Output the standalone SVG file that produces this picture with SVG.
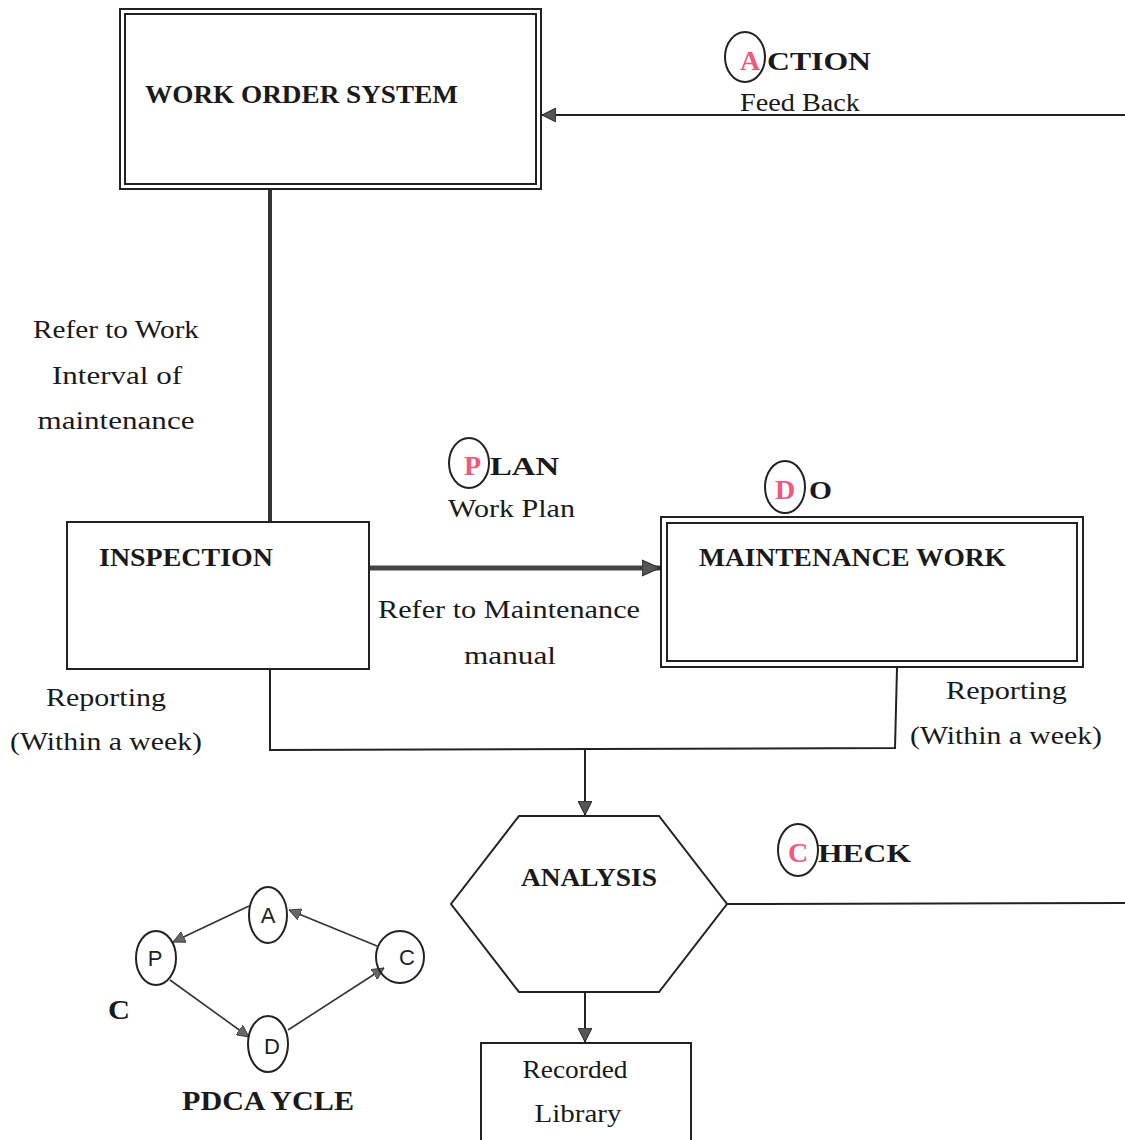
<svg xmlns="http://www.w3.org/2000/svg" width="1125" height="1140" viewBox="0 0 1125 1140">
<style>
.t{font-family:"Liberation Serif","Times New Roman",serif;fill:#1a1a1a}
.b{font-weight:bold}
.lbl{font-size:25px}
.ttl{font-size:26px;font-weight:bold}
.red{fill:#ef5a7c;font-weight:bold}
.box{fill:#fff;stroke:#222;stroke-width:2}
.ring{fill:none;stroke:#222;stroke-width:2}
.ln{fill:none;stroke:#222;stroke-width:2}
.sl{fill:none;stroke:#333;stroke-width:1.6}
.sans{font-family:"Liberation Sans",Arial,sans-serif;font-size:22px;fill:#222}
</style>
<defs>
<marker id="arr" viewBox="0 0 14 14" refX="14" refY="7" markerWidth="14" markerHeight="14" orient="auto" markerUnits="userSpaceOnUse">
<path d="M0,0 L14,7 L0,14 z" fill="#555" stroke="#222" stroke-width="1"/>
</marker>
<marker id="arrBig" viewBox="0 0 18 18" refX="18" refY="9" markerWidth="18" markerHeight="18" orient="auto" markerUnits="userSpaceOnUse">
<path d="M0,1 L18,9 L0,17 z" fill="#555" stroke="#222" stroke-width="1"/>
</marker>
<marker id="arrS" viewBox="0 0 12 12" refX="12" refY="6" markerWidth="12" markerHeight="12" orient="auto" markerUnits="userSpaceOnUse">
<path d="M0,0 L12,6 L0,12 z" fill="#666" stroke="#333" stroke-width="0.8"/>
</marker>
</defs>
<rect width="1125" height="1140" fill="#fff"/>

<g id="connectors">
<line class="ln" x1="1125" y1="115" x2="542" y2="115" marker-end="url(#arr)"/>
<line x1="270" y1="190" x2="270" y2="522" stroke="#333" stroke-width="4"/>
<line x1="360" y1="568" x2="660" y2="568" stroke="#444" stroke-width="5" marker-end="url(#arrBig)"/>
<polyline class="ln" points="270,669 270,750 895,748 897,668"/>
<line class="ln" x1="585" y1="749" x2="585" y2="815" marker-end="url(#arr)"/>
<line class="ln" x1="727" y1="904" x2="1125" y2="903"/>
<line class="ln" x1="585" y1="992" x2="585" y2="1042" marker-end="url(#arr)"/>
</g>

<g id="work-order-system">
<rect class="box" x="120" y="9" width="421" height="180"/>
<rect class="box" x="125" y="14" width="411" height="170"/>
<text class="t ttl" x="145" y="103" textLength="313" lengthAdjust="spacingAndGlyphs">WORK ORDER SYSTEM</text>
</g>

<g id="action-label">
<ellipse class="ring" cx="745" cy="57" rx="20" ry="25"/>
<text class="t red" x="740" y="70" font-size="28">A</text>
<text class="t ttl" x="767" y="70" font-size="28" textLength="104" lengthAdjust="spacingAndGlyphs">CTION</text>
<text class="t lbl" x="740" y="111" textLength="120" lengthAdjust="spacingAndGlyphs">Feed Back</text>
</g>

<g id="refer-work-label">
<text class="t lbl" x="116" y="338" text-anchor="middle" textLength="166" lengthAdjust="spacingAndGlyphs">Refer to Work</text>
<text class="t lbl" x="117" y="384" text-anchor="middle" textLength="130" lengthAdjust="spacingAndGlyphs">Interval of</text>
<text class="t lbl" x="116" y="429" text-anchor="middle" textLength="157" lengthAdjust="spacingAndGlyphs">maintenance</text>
</g>

<g id="inspection">
<rect class="box" x="67" y="522" width="302" height="147"/>
<text class="t ttl" x="99" y="566" textLength="174" lengthAdjust="spacingAndGlyphs">INSPECTION</text>
</g>

<g id="plan-label">
<ellipse class="ring" cx="469" cy="463" rx="20" ry="25"/>
<text class="t red" x="464" y="475" font-size="28">P</text>
<text class="t ttl" x="490" y="475" font-size="28" textLength="69" lengthAdjust="spacingAndGlyphs">LAN</text>
<text class="t lbl" x="448" y="517" textLength="127" lengthAdjust="spacingAndGlyphs">Work Plan</text>
</g>

<g id="do-label">
<ellipse class="ring" cx="785" cy="487" rx="20" ry="26"/>
<text class="t red" x="775" y="499" font-size="28">D</text>
<text class="t ttl" x="809" y="499" font-size="28" textLength="23" lengthAdjust="spacingAndGlyphs">O</text>
</g>

<g id="maintenance-work">
<rect class="box" x="661" y="517" width="422" height="150"/>
<rect class="box" x="667" y="523" width="410" height="138"/>
<text class="t ttl" x="699" y="566" textLength="307" lengthAdjust="spacingAndGlyphs">MAINTENANCE WORK</text>
</g>

<g id="refer-manual-label">
<text class="t lbl" x="378" y="618" textLength="262" lengthAdjust="spacingAndGlyphs">Refer to Maintenance</text>
<text class="t lbl" x="464" y="664" textLength="92" lengthAdjust="spacingAndGlyphs">manual</text>
</g>

<g id="reporting-left">
<text class="t lbl" x="46" y="706" textLength="120" lengthAdjust="spacingAndGlyphs">Reporting</text>
<text class="t lbl" x="10" y="750" textLength="192" lengthAdjust="spacingAndGlyphs">(Within a week)</text>
</g>

<g id="reporting-right">
<text class="t lbl" x="946" y="699" textLength="121" lengthAdjust="spacingAndGlyphs">Reporting</text>
<text class="t lbl" x="910" y="744" textLength="192" lengthAdjust="spacingAndGlyphs">(Within a week)</text>
</g>

<g id="analysis">
<polygon class="box" points="519,816 659,816 727,904 659,992 519,992 451,904"/>
<text class="t ttl" x="521" y="886" textLength="136" lengthAdjust="spacingAndGlyphs">ANALYSIS</text>
</g>

<g id="check-label">
<ellipse class="ring" cx="798" cy="850" rx="20" ry="26"/>
<text class="t red" x="788" y="862" font-size="28">C</text>
<text class="t ttl" x="818" y="862" font-size="28" textLength="93" lengthAdjust="spacingAndGlyphs">HECK</text>
</g>

<g id="recorded-library">
<rect class="box" x="481" y="1043" width="210" height="100"/>
<text class="t lbl" x="575" y="1078" text-anchor="middle" textLength="105" lengthAdjust="spacingAndGlyphs">Recorded</text>
<text class="t lbl" x="578" y="1122" text-anchor="middle" textLength="87" lengthAdjust="spacingAndGlyphs">Library</text>
</g>

<g id="pdca-cycle">
<g id="pdca-connectors">
<line class="sl" x1="249" y1="906" x2="173" y2="942" marker-end="url(#arrS)"/>
<line class="sl" x1="377" y1="946" x2="289" y2="910" marker-end="url(#arrS)"/>
<line class="sl" x1="170" y1="980" x2="249" y2="1037" marker-end="url(#arrS)"/>
<line class="sl" x1="288" y1="1030" x2="384" y2="968" marker-end="url(#arrS)"/>
</g>
<g id="pdca-a"><ellipse class="ring" cx="268" cy="915" rx="19" ry="28" stroke-width="1.6"/><text class="sans" x="268" y="923" text-anchor="middle">A</text></g>
<g id="pdca-p"><ellipse class="ring" cx="156" cy="958" rx="20" ry="27" stroke-width="1.6"/><text class="sans" x="155" y="966" text-anchor="middle">P</text></g>
<g id="pdca-c"><ellipse class="ring" cx="400" cy="957" rx="24" ry="26" stroke-width="1.6"/><text class="sans" x="407" y="965" text-anchor="middle">C</text></g>
<g id="pdca-d"><ellipse class="ring" cx="268" cy="1044" rx="20" ry="28" stroke-width="1.6"/><text class="sans" x="272" y="1054" text-anchor="middle">D</text></g>
<text class="t b" x="108" y="1019" font-size="28" textLength="22" lengthAdjust="spacingAndGlyphs">C</text>
<text class="t b" x="182" y="1110" font-size="28" textLength="172" lengthAdjust="spacingAndGlyphs">PDCA YCLE</text>
</g>
</svg>
